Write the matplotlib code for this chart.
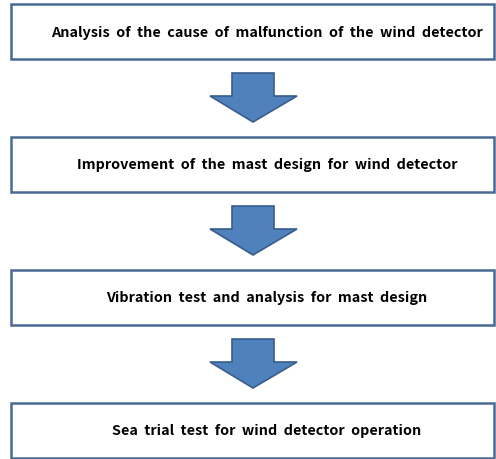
import matplotlib.pyplot as plt
from matplotlib.patches import Rectangle, Polygon

# flowchart steps
steps = [
    "Analysis  of  the  cause  of  malfunction  of  the  wind  detector",
    "Improvement  of  the  mast  design  for  wind  detector",
    "Vibration  test  and  analysis  for  mast  design",
    "Sea  trial  test  for  wind  detector  operation",
]

W, H = 496, 460
fig = plt.figure(figsize=(W / 100, H / 100), dpi=100)
ax = fig.add_axes([0, 0, 1, 1])
ax.set_xlim(0, W)
ax.set_ylim(H, 0)
ax.axis("off")

box_left, box_right = 11, 494
box_h = 55
pitch = 133
text_x = 267

for i, label in enumerate(steps):
    top = 5 + i * pitch
    ax.add_patch(Rectangle((box_left, top), box_right - box_left, box_h,
                           facecolor="white", edgecolor="#4a6a94", lw=1.8))
    ax.text(text_x, top + box_h / 2, label, ha="center", va="center",
            fontsize=10.35, fontweight="bold", family=["Noto Sans CJK KR", "DejaVu Sans"],
            color="black")

    # block arrow to next box
    if i < len(steps) - 1:
        y0 = top + box_h + 14
        y1 = y0 + 23
        y2 = y1 + 26
        pts = [(232, y0), (274, y0), (274, y1), (297, y1), (253, y2),
               (210, y1), (232, y1)]
        ax.add_patch(Polygon(pts, closed=True, facecolor="#4f81bd",
                             edgecolor="#385d8a", lw=1.2, joinstyle="miter"))

fig.savefig("out.png", dpi=100)
